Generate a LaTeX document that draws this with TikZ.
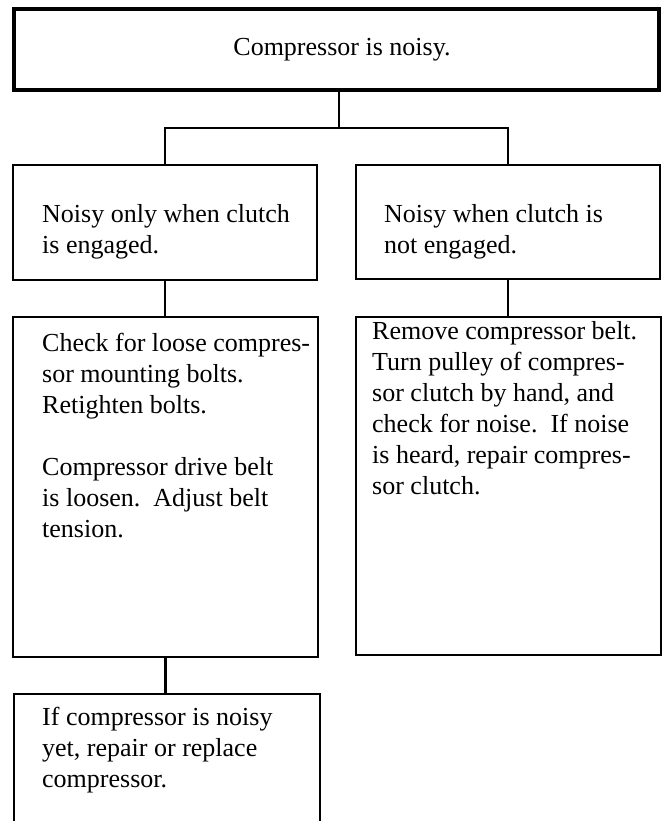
\documentclass[tikz,border=0pt]{standalone}
\usepackage{fontspec}
\setmainfont{Liberation Serif}
\begin{document}
\begin{tikzpicture}[x=1pt,y=-1pt,
  box/.style={draw, line width=2pt, rectangle, inner sep=0pt, outer sep=0pt},
  txt/.style={inner sep=0pt, align=left, anchor=base west, font=\fontsize{26}{31}\selectfont},
  link/.style={line width=2.2pt}]
\useasboundingbox (0,0) rectangle (669,821);
% boxes
\node[box, line width=3.5pt, minimum width=645, minimum height=81] (top) at (336.5,49.5) {};
\node[box, minimum width=304, minimum height=114.5] (l1) at (165,222.75) {};
\node[box, minimum width=304, minimum height=114] (r1) at (508,222) {};
\node[box, minimum width=305, minimum height=340] (l2) at (165.5,487) {};
\node[box, minimum width=305, minimum height=338] (r2) at (508,486) {};
\node[inner sep=0pt, outer sep=0pt, minimum width=306, minimum height=134] (b) at (167,761) {};
\draw[box] (b.south west) |- (b.north east) -- (b.south east);
% texts (base anchor = baseline of the last line)
\node[txt, anchor=base] (toptxt) at (342,56) {Compressor is noisy.};
\node[txt] (l1t) at (42,253) {Noisy only when clutch\\is engaged.};
\node[txt] (r1t) at (384,253) {Noisy when clutch is\\not engaged.};
\node[txt] (l2t) at (42,537) {Check for loose compres-\\sor mounting bolts.\\Retighten bolts.\\[31pt]Compressor drive belt\\is loosen.\ \ Adjust belt\\tension.};
\node[txt] (r2t) at (372,494) {Remove compressor belt.\\Turn pulley of compres-\\sor clutch by hand, and\\check for noise.\ \ If noise\\is heard, repair compres-\\sor clutch.};
\node[txt] (bt) at (42,787) {If compressor is noisy\\yet, repair or replace\\compressor.};
% connectors
\coordinate (j) at (339,128);
\draw[link] (top.south -| j) -- (j);
\draw[link] (l1.north) |- (j) -| (r1.north);
\draw[link] (l1.south) -- (l1.south |- l2.north);
\draw[link] (r1.south) -- (r1.south |- r2.north);
\draw[link] (l2.south) -- (l2.south |- b.north);
\end{tikzpicture}
\end{document}
